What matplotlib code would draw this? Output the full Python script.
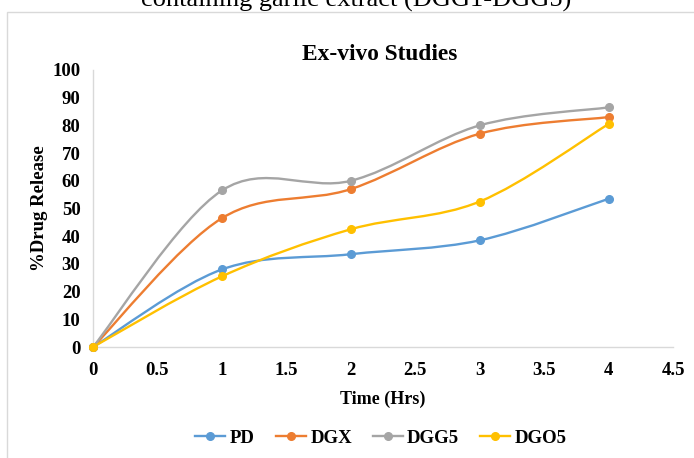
import numpy as np
import matplotlib
matplotlib.use("Agg")
import matplotlib.pyplot as plt
from matplotlib.path import Path
from matplotlib.patches import PathPatch, Rectangle
from matplotlib.lines import Line2D

time = [0, 1, 2, 3, 4]
series_names = ["PD", "DGX", "DGG5", "DGO5"]
pd_vals = [0, 28, 33.5, 38.5, 53.5]
dgx_vals = [0, 46.5, 57, 77, 83]
dgg5_vals = [0, 56.5, 60, 80, 86.5]
dgo5_vals = [0, 25.5, 42.5, 52.5, 80.5]
colors = ["#5B9BD5", "#ED7D31", "#A5A5A5", "#FFC000"]
xticks = [0, 0.5, 1, 1.5, 2, 2.5, 3, 3.5, 4, 4.5]
yticks = list(range(0, 101, 10))

plt.rcParams['font.family'] = ['Liberation Serif', 'DejaVu Serif']

fig = plt.figure(figsize=(6.94, 4.58), dpi=100)
ax = fig.add_axes([93/694, 1-347/458, (673-93)/694, (347-70)/458])

def smooth_path(xs, ys):
    # Excel-style smoothed line as cubic Bezier segments
    pts = np.column_stack([xs, ys]).astype(float)
    n = len(pts)
    verts = [pts[0]]
    codes = [Path.MOVETO]
    for i in range(n - 1):
        p0 = pts[i - 1] if i > 0 else pts[i]
        p1 = pts[i]
        p2 = pts[i + 1]
        p3 = pts[i + 2] if i + 2 < n else pts[i + 1]
        c1 = p1 + (p2 - p0) / 6.0
        c2 = p2 - (p3 - p1) / 6.0
        verts += [c1, c2, p2]
        codes += [Path.CURVE4] * 3
    return Path(verts, codes)

all_vals = [pd_vals, dgx_vals, dgg5_vals, dgo5_vals]
for vals, c, name in zip(all_vals, colors, series_names):
    patch = PathPatch(smooth_path(time, vals), facecolor='none', edgecolor=c,
                      lw=1.7, zorder=2)
    ax.add_patch(patch)
    ax.plot(time, vals, linestyle='none', marker='o', markersize=5.5,
            color=c, zorder=3, clip_on=False)

ax.set_xlim(0, 4.5)
ax.set_ylim(0, 100)
ax.set_xticks(xticks)
ax.set_xticklabels([("%g" % t) for t in xticks])
ax.set_yticks(yticks)
ax.tick_params(axis='y', length=0, labelsize=13.5, pad=9)
ax.tick_params(axis='x', length=0, labelsize=13.5, pad=11)
for lbl in ax.get_xticklabels() + ax.get_yticklabels():
    lbl.set_fontweight('bold')
for s in ['top', 'right']:
    ax.spines[s].set_visible(False)
for s in ['left', 'bottom']:
    ax.spines[s].set_color('#D9D9D9')
    ax.spines[s].set_linewidth(1.0)

ax.set_xlabel("Time (Hrs)", fontsize=13, fontweight='bold', labelpad=8)
ax.set_ylabel("%Drug Release", fontsize=13.5, fontweight='bold', labelpad=3)

fig.text(380/694, 1-54/458, "Ex-vivo Studies", ha='center', va='center',
         fontsize=16.8, fontweight='bold')

fig.text(356/694, 1-0/458, "containing garlic extract (DGG1-DGG5)", ha='center',
         va='center', fontsize=19)

fig.patches.append(Rectangle((7/694, -0.05), 1.1, 1-12/458+0.05,
                             transform=fig.transFigure, facecolor='none',
                             edgecolor='#D9D9D9', lw=1.0, zorder=0))

handles = [Line2D([0], [0], color=c, lw=1.7, marker='o', markersize=5.5)
           for c in colors]
fig.legend(handles, series_names, loc='center', bbox_to_anchor=(381/694, 1-438/458),
           ncol=4, frameon=False, handlelength=1.6,
           columnspacing=1.1, handletextpad=0.25,
           prop={'weight': 'bold', 'size': 13.5})

fig.savefig("out.png", dpi=100)
